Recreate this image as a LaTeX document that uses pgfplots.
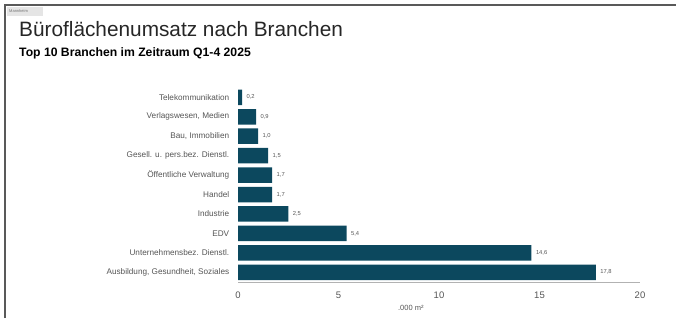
\documentclass[border=0pt]{standalone}
\usepackage{pgfplots}
\pgfplotsset{compat=1.18}
\usepackage{fontspec}
\setmainfont{Liberation Sans}
\definecolor{barc}{RGB}{12,72,94}
\definecolor{txt}{RGB}{85,85,85}
\begin{document}
\begin{tikzpicture}
\useasboundingbox (0pt,0pt) rectangle (676pt,318pt);
% frame
\draw[line width=2pt,color=black!65] (4.5pt,0pt) -- (4.5pt,313pt) -- (676pt,313pt);
\fill[black!10] (7pt,302pt) rectangle (43pt,311pt);
\node[anchor=west,font=\fontsize{4}{4}\selectfont,text=black!55,inner sep=0pt] at (9pt,306.5pt) {Mannheim};
% titles
\node[anchor=base west,inner sep=0pt,font=\fontsize{20.8}{21}\selectfont,text=black!85] at (19pt,281pt) {Büroflächenumsatz nach Branchen};
\node[anchor=base west,inner sep=0pt,font=\fontsize{12.2}{13}\selectfont\bfseries,text=black] at (19pt,261.5pt) {Top 10 Branchen im Zeitraum Q1-4 2025};
\begin{axis}[
  at={(238pt,36pt)}, anchor=south west,
  width=402pt, height=194.4pt, scale only axis,
  xmin=0, xmax=20, ymin=-0.5, ymax=9.5,
  xbar, bar width=15.5pt, bar shift=0pt,
  axis line style={draw=none},
  axis x line*=bottom,
  xtick={0,5,10,15,20},
  xtick style={draw=none},
  ytick={0,...,9},
  ytick style={draw=none},
  yticklabels={{Ausbildung, Gesundheit, Soziales},{Unternehmensbez. Dienstl.},EDV,Industrie,Handel,{Öffentliche Verwaltung},{Gesell. u. pers.bez. Dienstl.},{Bau, Immobilien},{Verlagswesen, Medien},Telekommunikation},
  yticklabel style={font=\fontsize{8.2}{9}\selectfont,text=txt,xshift=-1pt},
  xticklabel style={font=\fontsize{9.5}{10}\selectfont,text=txt,yshift=-6pt},
  /pgf/number format/assume math mode=true,
  xlabel={.000 m²},
  xlabel style={font=\fontsize{7.5}{8}\selectfont,text=txt,at={(axis description cs:0.43,0)},anchor=center,yshift=-26pt},
  nodes near coords,
  nodes near coords style={font=\fontsize{5.8}{6}\selectfont,text=txt,xshift=1pt,/pgf/number format/.cd,fixed,fixed zerofill,precision=1,use comma,assume math mode=true},
  clip=false,
]
\addplot[fill=barc,draw=none] coordinates {
(17.8,0) (14.6,1) (5.4,2) (2.5,3) (1.7,4) (1.7,5) (1.5,6) (1.0,7) (0.9,8) (0.2,9)};
\draw[black!30,line width=0.8pt] (axis cs:0,-0.5) -- (axis cs:20,-0.5);
\end{axis}
\end{tikzpicture}
\end{document}
